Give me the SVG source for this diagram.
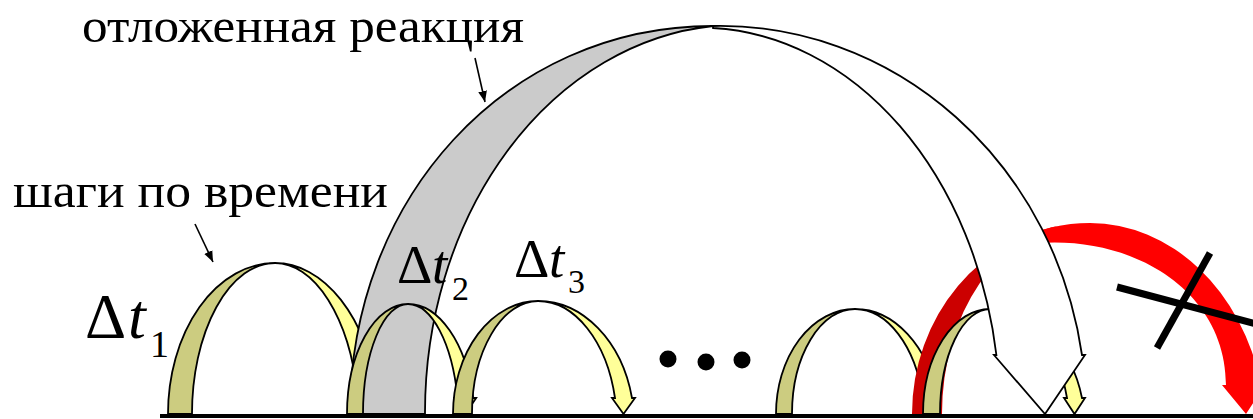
<svg xmlns="http://www.w3.org/2000/svg" width="1253" height="419" viewBox="0 0 1253 419">
<defs>
<marker id="ah" viewBox="0 0 10 10" refX="10" refY="5" markerWidth="11" markerHeight="11" markerUnits="userSpaceOnUse" orient="auto"><path d="M0,1 L10,5 L0,9 Z" fill="#000"/></marker>
</defs>
<style>
.dk{fill:#CCCC80;stroke:#000;stroke-width:1.8;stroke-linejoin:round}
.lt{fill:#FFFF99;stroke:#000;stroke-width:1.8;stroke-linejoin:miter}
.gr{fill:#CBCBCB;stroke:#000;stroke-width:1.8}
.wh{fill:#FFFFFF;stroke:#000;stroke-width:1.8}
.lbl{font-family:'Liberation Serif','Times New Roman',serif;fill:#000}
.ptr{stroke:#000;stroke-width:1.6;fill:none}
</style>
<rect width="1253" height="419" fill="#FFFFFF"/>
<g id="step1">
<path class="lt" d="M275,263 A104,163 0 0 1 377,394 L380,394 L367,414 L354,394 L357.4,394 A84,163 0 0 0 275,263 Z"/>
<path class="dk" d="M168,414 A107,151 0 0 1 275,263 A83,151 0 0 0 192,414 Z"/>
</g>
<g id="step4">
<path class="lt" d="M855,309 A85,117 0 0 1 937.5,398 L940.5,398 L930,414 L920,398 L923,398 A70,117 0 0 0 855,309 Z"/>
<path class="dk" d="M776,414 A79,105 0 0 1 855,309 A63,105 0 0 0 792,414 Z"/>
</g>
<g id="rejected">
<path fill="#CC0000" d="M912,414 A178,191 0 0 1 1072,224 A138,190 0 0 0 942,414 Z"/>
<path fill="#FF0000" d="M1000,249.2 A178,191 0 0 1 1090,223 A176,211 0 0 1 1261,385 L1265,385 L1246,414 L1222,385 L1226,385 C1226,280 1110,222 1000,249.2 Z"/>
</g>
<g id="step5">
<path class="lt" d="M990,309 A94.7,117 0 0 1 1082,398 L1085,398 L1074.5,414 L1064,398 L1067,398 A79.3,117 0 0 0 990,309 Z"/>
<path class="dk" d="M923,414 A67,105 0 0 1 990,309 A50,105 0 0 0 940,414 Z"/>
</g>
<g id="delayed">
<path class="gr" d="M350,414 C350,200 505,26 713,26 A315,388 0 0 0 425,414 Z"/>
<path class="wh" d="M713,26 A366,388 0 0 1 1082,355 L1085,355 L1045,414 L994,355 L996.4,355 A300,387 0 0 0 713,28 Z"/>
</g>
<g id="step2">
<path class="lt" d="M408,304 A67,122 0 0 1 473.2,398 L476.2,398 L465.4,414 L454.6,398 L457.6,398 A51,122 0 0 0 408,304 Z"/>
<path class="dk" d="M347,414 A61,110 0 0 1 408,304 A45,110 0 0 0 363,414 Z"/>
</g>
<g id="step3">
<path class="lt" d="M538,301 A96.4,125 0 0 1 632,398 L635,398 L623.5,414 L612,398 L615,398 A79,125 0 0 0 538,301 Z"/>
<path class="dk" d="M453,414 A85,113 0 0 1 538,301 A66,113 0 0 0 472,414 Z"/>
</g>
<g id="dots" fill="#000">
<circle cx="668" cy="359" r="8.5"/>
<circle cx="706" cy="362" r="8.5"/>
<circle cx="742" cy="360" r="8.5"/>
</g>
<g id="cross" stroke="#000" stroke-width="7">
<line x1="1117" y1="287" x2="1260" y2="325"/>
<line x1="1210" y1="253" x2="1157" y2="348"/>
</g>
<g id="connectors">
<line class="ptr" x1="475" y1="58" x2="485" y2="102" marker-end="url(#ah)"/>
<line class="ptr" x1="195" y1="224" x2="213" y2="262" marker-end="url(#ah)"/>
</g>
<g id="labels" font-family="'Liberation Serif', 'Times New Roman', serif">
<text class="lbl" font-family="Liberation Serif, serif" x="82" y="42" font-size="48" textLength="442" lengthAdjust="spacingAndGlyphs">отложенная реакция</text>
<text class="lbl" font-family="Liberation Serif, serif" x="13" y="207" font-size="48" textLength="375" lengthAdjust="spacingAndGlyphs">шаги по времени</text>
<text class="lbl" font-family="Liberation Serif, serif" font-size="64"><tspan x="85" y="338">Δ</tspan><tspan x="128" y="338" font-style="italic">t</tspan><tspan x="150" y="357" font-size="38">1</tspan></text>
<text class="lbl" font-family="Liberation Serif, serif" font-size="55"><tspan x="397" y="283">Δ</tspan><tspan x="432" y="283" font-style="italic">t</tspan><tspan x="452" y="300" font-size="34">2</tspan></text>
<text class="lbl" font-family="Liberation Serif, serif" font-size="55"><tspan x="514" y="277">Δ</tspan><tspan x="549" y="277" font-style="italic">t</tspan><tspan x="568" y="293" font-size="34">3</tspan></text>
</g>
<line id="axis" x1="160" y1="416" x2="1253" y2="416" stroke="#000" stroke-width="4"/>
</svg>
